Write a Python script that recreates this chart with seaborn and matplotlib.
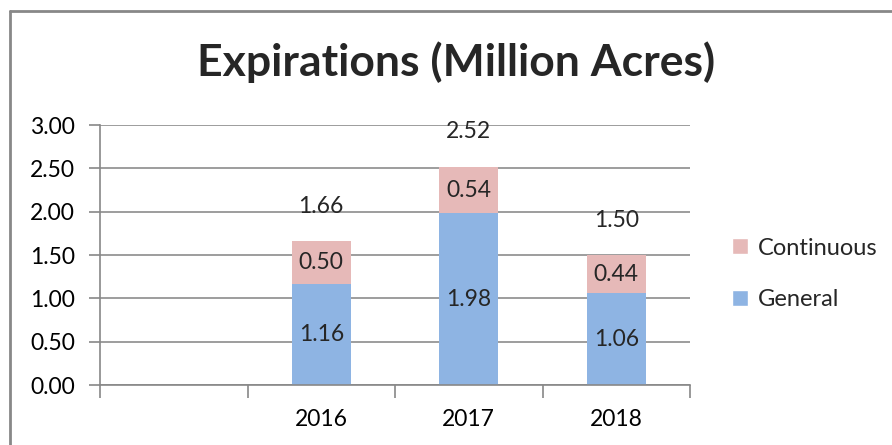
import matplotlib
matplotlib.use("Agg")
import matplotlib.pyplot as plt
import seaborn as sns
import pandas as pd
from matplotlib.lines import Line2D
from matplotlib.patches import Patch

years = ["2016", "2017", "2018"]
general = [1.16, 1.98, 1.06]
continuous = [0.50, 0.54, 0.44]
totals = [1.66, 2.52, 1.50]
order = ["", "2016", "2017", "2018"]
yticks = [0.0, 0.5, 1.0, 1.5, 2.0, 2.5, 3.0]

sns.set_theme(style="white")
plt.rcParams["font.family"] = ["Lato", "DejaVu Sans"]

df = pd.DataFrame({"year": years, "general": general,
                   "continuous": continuous, "total": totals})

fig = plt.figure(figsize=(8.92, 4.45), dpi=100)
W, H = 892, 445
ax = fig.add_axes([100 / W, 1 - 385 / H, 590 / W, 260 / H])

pink = "#E6B9B8"
blue = "#8EB4E3"
sns.barplot(data=df, x="year", y="total", order=order, color=pink,
            width=0.4, saturation=1, ax=ax, linewidth=0)
sns.barplot(data=df, x="year", y="general", order=order, color=blue,
            width=0.4, saturation=1, ax=ax, linewidth=0)

fs = 16.5
ax.set_ylim(0, 3.0)
ax.set_xlim(-0.5, 3.5)
ax.set_yticks(yticks)
ax.set_yticklabels([f"{v:.2f}" for v in yticks], fontsize=fs, color="black")
ax.set_xticks([-0.5, 0.5, 1.5, 2.5, 3.5])
ax.set_xticklabels([])
ax.set_xticks([0, 1, 2, 3], minor=True)
ax.set_xticklabels(order, minor=True, fontsize=fs, color="black")
ax.tick_params(axis="x", which="major", length=9, width=1.2, color="#888888",
               direction="out", bottom=True)
ax.tick_params(axis="x", which="minor", length=0, pad=17)
ax.tick_params(axis="y", length=8, width=1.2, color="#888888",
               direction="out", left=True, pad=10)
ax.set_xlabel("")
ax.set_ylabel("")
ax.grid(axis="y", color="#8c8c8c", linewidth=1.2)
ax.set_axisbelow(True)
for s in ["top", "right"]:
    ax.spines[s].set_visible(False)
for s in ["left", "bottom"]:
    ax.spines[s].set_color("#888888")
    ax.spines[s].set_linewidth(1.2)

for i, y in enumerate(years):
    x = order.index(y)
    g, c, t = general[i], continuous[i], totals[i]
    ax.text(x, g / 2, f"{g:.2f}", ha="center", va="center", fontsize=fs)
    ax.text(x, g + c / 2, f"{c:.2f}", ha="center", va="center", fontsize=fs)
    ax.annotate(f"{t:.2f}", (x, t), xytext=(0, 25), textcoords="offset points",
                ha="center", va="center", fontsize=fs)

fig.text(456 / W, 1 - 62 / H, "Expirations (Million Acres)", ha="center",
         va="center", fontsize=32, fontweight="bold")

handles = [Patch(facecolor=pink, label="Continuous"),
           Patch(facecolor=blue, label="General")]
fig.legend(handles=handles, loc="center left",
           bbox_to_anchor=(711 / W, 1 - 274 / H), frameon=False,
           fontsize=17, handlelength=0.65, handleheight=0.65,
           handletextpad=0.45, labelspacing=1.3)

fig.add_artist(Line2D([10 / W, 10 / W], [0, 1 - 11 / H], color="#888888",
                      linewidth=2, transform=fig.transFigure))
fig.add_artist(Line2D([10 / W, 1], [1 - 11 / H, 1 - 11 / H], color="#888888",
                      linewidth=2, transform=fig.transFigure))

fig.savefig("out.png", dpi=100)
